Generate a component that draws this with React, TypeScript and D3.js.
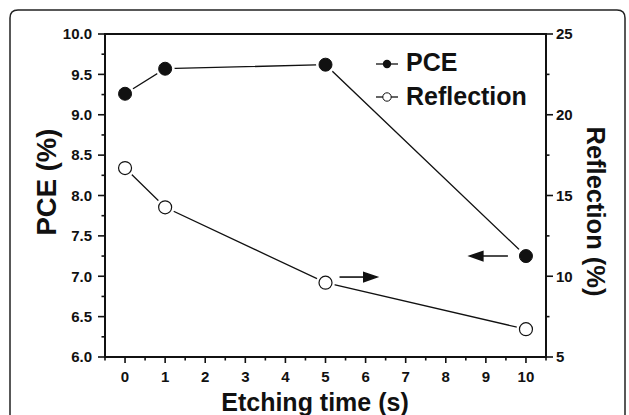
import React from "react";
import * as d3 from "d3";

const etchTimes = [0, 1, 5, 10];
const pceValues = [9.26, 9.57, 9.62, 7.25];
const reflValues = [16.7, 14.27, 9.6, 6.72];
const xTicks = [0, 1, 2, 3, 4, 5, 6, 7, 8, 9, 10];
const leftTicks = [6.0, 6.5, 7.0, 7.5, 8.0, 8.5, 9.0, 9.5, 10.0];
const rightTicks = [5, 10, 15, 20, 25];

const W = 629, H = 415;
const L = 105, R = 546, T = 34, B = 357;
const FONT = "'Liberation Sans', Arial, sans-serif";

export default function App() {
  const x = d3.scaleLinear().domain([-0.5, 10.5]).range([L, R]);
  const yL = d3.scaleLinear().domain([6, 10]).range([B, T]);
  const yR = d3.scaleLinear().domain([5, 25]).range([B, T]);
  const line = d3.line<[number, number]>().x(d => d[0]).y(d => d[1]);
  const pcePts: [number, number][] = etchTimes.map((t, i) => [x(t), yL(pceValues[i])]);
  const refPts: [number, number][] = etchTimes.map((t, i) => [x(t), yR(reflValues[i])]);
  const xMinor = d3.range(-0.5, 10.51, 0.5).filter(v => !xTicks.includes(v));
  const lMinor = d3.range(6.25, 10, 0.5);
  const rMinor = d3.range(7.5, 25, 5);
  const r = 6.5;

  return (
    <svg width={W} height={H} style={{ position: "absolute", left: 0, top: 0 }}>
      <rect x={0} y={0} width={W} height={H} fill="#fff" />
      <path d={`M10,430 L10,18 Q10,10 18,10 L617,10 Q625,10 625,18 L625,430`} fill="none" stroke="#222" strokeWidth={1.5} />
      {/* frame */}
      <rect x={L} y={T} width={R - L} height={B - T} fill="none" stroke="#111" strokeWidth={2} />
      {/* x ticks */}
      {xTicks.map(t => (
        <g key={"x" + t}>
          <line x1={x(t)} x2={x(t)} y1={B} y2={B + 6} stroke="#111" strokeWidth={1.6} />
          <text x={x(t)} y={382} textAnchor="middle" fontFamily={FONT} fontWeight="bold" fontSize={15} fill="#111">{t}</text>
        </g>
      ))}
      {xMinor.map(t => (
        <line key={"xm" + t} x1={x(t)} x2={x(t)} y1={B} y2={B + 3.5} stroke="#111" strokeWidth={1.6} />
      ))}
      {/* left ticks */}
      {leftTicks.map(t => (
        <g key={"l" + t}>
          <line x1={L - 7} x2={L} y1={yL(t)} y2={yL(t)} stroke="#111" strokeWidth={1.6} />
          <text x={92} y={yL(t) + 5.3} textAnchor="end" fontFamily={FONT} fontWeight="bold" fontSize={15} fill="#111">{t.toFixed(1)}</text>
        </g>
      ))}
      {lMinor.map(t => (
        <line key={"lm" + t} x1={L - 3.5} x2={L} y1={yL(t)} y2={yL(t)} stroke="#111" strokeWidth={1.6} />
      ))}
      {/* right ticks */}
      {rightTicks.map(t => (
        <g key={"r" + t}>
          <line x1={R} x2={R + 7} y1={yR(t)} y2={yR(t)} stroke="#111" strokeWidth={1.6} />
          <text x={556} y={yR(t) + 5.3} textAnchor="start" fontFamily={FONT} fontWeight="bold" fontSize={15} fill="#111">{t}</text>
        </g>
      ))}
      {rMinor.map(t => (
        <line key={"rm" + t} x1={R} x2={R + 3.5} y1={yR(t)} y2={yR(t)} stroke="#111" strokeWidth={1.6} />
      ))}
      {/* series lines */}
      <path d={line(pcePts) || ""} fill="none" stroke="#111" strokeWidth={1.3} />
      <path d={line(refPts) || ""} fill="none" stroke="#111" strokeWidth={1.3} />
      {pcePts.map((p, i) => (
        <g key={"pc" + i}>
          <circle cx={p[0]} cy={p[1]} r={r + 3} fill="#fff" />
          <circle cx={p[0]} cy={p[1]} r={r} fill="#111" stroke="#111" strokeWidth={1} />
        </g>
      ))}
      {refPts.map((p, i) => (
        <g key={"rf" + i}>
          <circle cx={p[0]} cy={p[1]} r={r + 3} fill="#fff" />
          <circle cx={p[0]} cy={p[1]} r={r} fill="#fff" stroke="#111" strokeWidth={1.2} />
        </g>
      ))}
      {/* arrows */}
      <g stroke="#111" strokeWidth={1.6} fill="#111">
        <line x1={x(9.55)} x2={x(8.75)} y1={yL(7.25)} y2={yL(7.25)} />
        <path d={`M${x(8.6)},${yL(7.25)} L${x(8.6) + 13},${yL(7.25) - 4.5} L${x(8.6) + 13},${yL(7.25) + 4.5} Z`} />
        <line x1={x(5.35)} x2={x(6.1)} y1={yR(9.95)} y2={yR(9.95)} />
        <path d={`M${x(6.28)},${yR(9.95)} L${x(6.28) - 13},${yR(9.95) - 4.5} L${x(6.28) - 13},${yR(9.95) + 4.5} Z`} />
      </g>
      {/* legend */}
      <line x1={376} x2={398} y1={64} y2={64} stroke="#111" strokeWidth={1.3} />
      <circle cx={387} cy={64} r={4.2} fill="#111" />
      <text x={406} y={71} fontFamily={FONT} fontWeight="bold" fontSize={25} fill="#111">PCE</text>
      <line x1={376} x2={398} y1={97} y2={97} stroke="#111" strokeWidth={1.3} />
      <circle cx={387} cy={97} r={4.2} fill="#fff" stroke="#111" strokeWidth={1} />
      <text x={406} y={104.5} fontFamily={FONT} fontWeight="bold" fontSize={25} fill="#111">Reflection</text>
      {/* axis titles */}
      <text transform={`translate(56,182) rotate(-90)`} textAnchor="middle" fontFamily={FONT} fontWeight="bold" fontSize={27.5} fill="#111">PCE (%)</text>
      <text transform={`translate(587,211.5) rotate(90)`} textAnchor="middle" fontFamily={FONT} fontWeight="bold" fontSize={25.5} fill="#111">Reflection (%)</text>
      <text x={315} y={411} textAnchor="middle" fontFamily={FONT} fontWeight="bold" fontSize={25} fill="#111">Etching time (s)</text>
    </svg>
  );
}
